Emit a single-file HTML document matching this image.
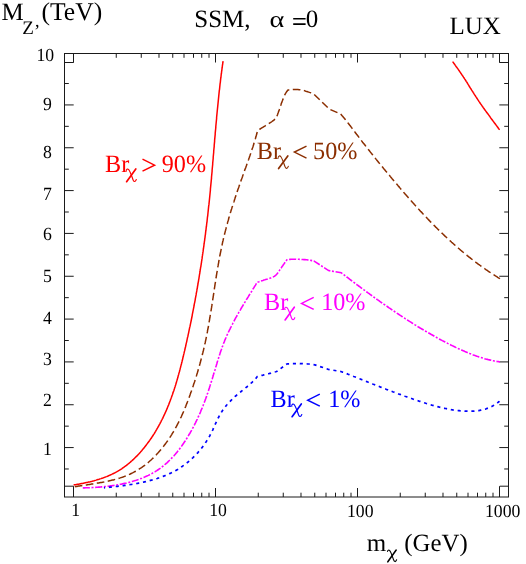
<!DOCTYPE html>
<html><head><meta charset="utf-8"><title>SSM LUX</title>
<style>html,body{margin:0;padding:0;background:#fff;}body{width:526px;height:564px;position:relative;overflow:hidden;font-family:"Liberation Serif",serif;}</style>
</head><body>
<svg width="526" height="564" viewBox="0 0 526 564" style="position:absolute;left:0;top:0;will-change:transform">
<rect width="526" height="564" fill="#fff"/>
<g stroke="#1a1a1a" stroke-width="1" fill="none" shape-rendering="auto">
<rect x="64.5" y="53.5" width="444.0" height="443.5"/>
<path d="M64.5 468.98h4.3 M508.5 468.98h-4.3 M64.5 447.57h9.2 M508.5 447.57h-9.2 M64.5 426.15h4.3 M508.5 426.15h-4.3 M64.5 404.74h9.2 M508.5 404.74h-9.2 M64.5 383.32h4.3 M508.5 383.32h-4.3 M64.5 361.91h9.2 M508.5 361.91h-9.2 M64.5 340.50h4.3 M508.5 340.50h-4.3 M64.5 319.08h9.2 M508.5 319.08h-9.2 M64.5 297.66h4.3 M508.5 297.66h-4.3 M64.5 276.25h9.2 M508.5 276.25h-9.2 M64.5 254.83h4.3 M508.5 254.83h-4.3 M64.5 233.42h9.2 M508.5 233.42h-9.2 M64.5 212.00h4.3 M508.5 212.00h-4.3 M64.5 190.59h9.2 M508.5 190.59h-9.2 M64.5 169.18h4.3 M508.5 169.18h-4.3 M64.5 147.76h9.2 M508.5 147.76h-9.2 M64.5 126.34h4.3 M508.5 126.34h-4.3 M64.5 104.93h9.2 M508.5 104.93h-9.2 M64.5 83.51h4.3 M508.5 83.51h-4.3 M64.5 62.50h9.2 M508.5 62.50h-9.2 M64.5 486.2h9.0 M508.5 486.2h-8.7 M73.50 497.0V486.2 M73.50 53.5V62.50 M116.25 497.0v-4.3 M116.25 53.5v4.3 M141.25 497.0v-4.3 M141.25 53.5v4.3 M158.99 497.0v-4.3 M158.99 53.5v4.3 M172.75 497.0v-4.3 M172.75 53.5v4.3 M184.00 497.0v-4.3 M184.00 53.5v4.3 M193.50 497.0v-4.3 M193.50 53.5v4.3 M201.74 497.0v-4.3 M201.74 53.5v4.3 M209.00 497.0v-4.3 M209.00 53.5v4.3 M215.50 497.0v-9.0 M215.50 53.5v9.0 M258.25 497.0v-4.3 M258.25 53.5v4.3 M283.25 497.0v-4.3 M283.25 53.5v4.3 M300.99 497.0v-4.3 M300.99 53.5v4.3 M314.75 497.0v-4.3 M314.75 53.5v4.3 M326.00 497.0v-4.3 M326.00 53.5v4.3 M335.50 497.0v-4.3 M335.50 53.5v4.3 M343.74 497.0v-4.3 M343.74 53.5v4.3 M351.00 497.0v-4.3 M351.00 53.5v4.3 M357.50 497.0v-9.0 M357.50 53.5v9.0 M400.25 497.0v-4.3 M400.25 53.5v4.3 M425.25 497.0v-4.3 M425.25 53.5v4.3 M442.99 497.0v-4.3 M442.99 53.5v4.3 M456.75 497.0v-4.3 M456.75 53.5v4.3 M468.00 497.0v-4.3 M468.00 53.5v4.3 M477.50 497.0v-4.3 M477.50 53.5v4.3 M485.74 497.0v-4.3 M485.74 53.5v4.3 M493.00 497.0v-4.3 M493.00 53.5v4.3 M499.50 497.0V486.2 M499.50 53.5V62.50"/>
</g>
<path d="M73.6 485.0 L74.6 484.8 L75.6 484.7 L76.5 484.5 L77.5 484.3 L78.5 484.2 L79.5 484.0 L80.5 483.8 L81.5 483.6 L82.4 483.4 L83.4 483.2 L84.4 483.0 L85.4 482.8 L86.4 482.6 L87.4 482.4 L88.4 482.1 L89.3 481.9 L90.3 481.7 L91.3 481.4 L92.3 481.2 L93.2 480.9 L94.2 480.7 L95.2 480.4 L96.2 480.1 L97.1 479.8 L98.1 479.5 L99.1 479.2 L100.0 478.9 L101.0 478.6 L101.9 478.3 L102.9 478.0 L103.8 477.6 L104.8 477.3 L105.7 476.9 L106.6 476.6 L107.6 476.2 L108.5 475.8 L109.4 475.4 L110.3 475.0 L111.2 474.6 L112.1 474.2 L113.0 473.7 L113.9 473.3 L114.8 472.8 L115.7 472.3 L116.6 471.9 L117.4 471.4 L118.3 470.9 L119.1 470.4 L120.0 469.8 L120.8 469.3 L121.7 468.8 L122.5 468.2 L123.3 467.6 L124.1 467.0 L124.9 466.5 L125.7 465.9 L126.5 465.3 L127.3 464.6 L128.1 464.0 L128.9 463.4 L129.6 462.7 L130.4 462.1 L131.1 461.4 L131.9 460.8 L132.6 460.1 L133.4 459.4 L134.1 458.7 L134.8 458.0 L135.5 457.3 L136.2 456.6 L137.0 455.9 L137.6 455.2 L138.3 454.4 L139.0 453.7 L139.7 452.9 L140.4 452.2 L141.0 451.4 L141.7 450.7 L142.3 449.9 L143.0 449.1 L143.6 448.4 L144.3 447.6 L144.9 446.8 L145.5 446.0 L146.1 445.2 L146.7 444.4 L147.3 443.6 L147.9 442.8 L148.5 442.0 L149.1 441.2 L149.7 440.4 L150.2 439.6 L150.8 438.8 L151.4 438.0 L151.9 437.1 L152.5 436.3 L153.0 435.5 L153.5 434.7 L154.1 433.8 L154.6 433.0 L155.1 432.1 L155.6 431.3 L156.1 430.4 L156.6 429.6 L157.1 428.7 L157.6 427.9 L158.1 427.0 L158.6 426.2 L159.0 425.3 L159.5 424.4 L160.0 423.6 L160.4 422.7 L160.9 421.8 L161.3 420.9 L161.8 420.0 L162.2 419.2 L162.7 418.3 L163.1 417.4 L163.5 416.5 L163.9 415.6 L164.4 414.7 L164.8 413.8 L165.2 412.9 L165.6 412.0 L166.0 411.1 L166.4 410.2 L166.8 409.3 L167.2 408.4 L167.5 407.5 L167.9 406.5 L168.3 405.6 L168.7 404.7 L169.0 403.8 L169.4 402.9 L169.7 401.9 L170.1 401.0 L170.4 400.1 L170.8 399.1 L171.1 398.2 L171.5 397.3 L171.8 396.3 L172.1 395.4 L172.5 394.5 L172.8 393.5 L173.1 392.6 L173.4 391.6 L173.8 390.7 L174.1 389.7 L174.4 388.8 L174.7 387.8 L175.0 386.9 L175.3 385.9 L175.6 385.0 L175.9 384.0 L176.2 383.1 L176.5 382.1 L176.7 381.1 L177.0 380.2 L177.3 379.2 L177.6 378.2 L177.9 377.3 L178.1 376.3 L178.4 375.3 L178.7 374.4 L178.9 373.4 L179.2 372.4 L179.5 371.5 L179.7 370.5 L180.0 369.5 L180.2 368.6 L180.5 367.6 L180.7 366.6 L181.0 365.6 L181.2 364.7 L181.5 363.7 L181.7 362.7 L182.0 361.7 L182.2 360.7 L182.5 359.8 L182.7 358.8 L182.9 357.8 L183.2 356.8 L183.4 355.8 L183.6 354.9 L183.9 353.9 L184.1 352.9 L184.3 351.9 L184.6 350.9 L184.8 350.0 L185.0 349.0 L185.2 348.0 L185.5 347.0 L185.7 346.0 L185.9 345.0 L186.1 344.1 L186.3 343.1 L186.6 342.1 L186.8 341.1 L187.0 340.1 L187.2 339.2 L187.4 338.2 L187.6 337.2 L187.9 336.2 L188.1 335.2 L188.3 334.2 L188.5 333.3 L188.7 332.3 L188.9 331.3 L189.1 330.3 L189.3 329.3 L189.5 328.3 L189.7 327.4 L190.0 326.4 L190.2 325.4 L190.4 324.4 L190.6 323.4 L190.8 322.4 L191.0 321.5 L191.2 320.5 L191.4 319.5 L191.6 318.5 L191.8 317.5 L192.0 316.5 L192.2 315.6 L192.3 314.6 L192.5 313.6 L192.7 312.6 L192.9 311.6 L193.1 310.6 L193.3 309.6 L193.5 308.7 L193.7 307.7 L193.9 306.7 L194.1 305.7 L194.2 304.7 L194.4 303.7 L194.6 302.8 L194.8 301.8 L195.0 300.8 L195.2 299.8 L195.3 298.8 L195.5 297.8 L195.7 296.8 L195.9 295.9 L196.1 294.9 L196.2 293.9 L196.4 292.9 L196.6 291.9 L196.8 290.9 L196.9 289.9 L197.1 289.0 L197.3 288.0 L197.5 287.0 L197.6 286.0 L197.8 285.0 L198.0 284.0 L198.1 283.0 L198.3 282.0 L198.5 281.1 L198.6 280.1 L198.8 279.1 L199.0 278.1 L199.1 277.1 L199.3 276.1 L199.4 275.1 L199.6 274.2 L199.8 273.2 L199.9 272.2 L200.1 271.2 L200.2 270.2 L200.4 269.2 L200.5 268.2 L200.7 267.2 L200.9 266.3 L201.0 265.3 L201.2 264.3 L201.3 263.3 L201.5 262.3 L201.6 261.3 L201.8 260.3 L201.9 259.3 L202.1 258.4 L202.2 257.4 L202.3 256.4 L202.5 255.4 L202.6 254.4 L202.8 253.4 L202.9 252.4 L203.1 251.4 L203.2 250.5 L203.3 249.5 L203.5 248.5 L203.6 247.5 L203.8 246.5 L203.9 245.5 L204.0 244.5 L204.2 243.5 L204.3 242.5 L204.4 241.6 L204.6 240.6 L204.7 239.6 L204.8 238.6 L205.0 237.6 L205.1 236.6 L205.2 235.6 L205.4 234.6 L205.5 233.6 L205.6 232.6 L205.7 231.7 L205.9 230.7 L206.0 229.7 L206.1 228.7 L206.2 227.7 L206.4 226.7 L206.5 225.7 L206.6 224.7 L206.7 223.7 L206.8 222.8 L207.0 221.8 L207.1 220.8 L207.2 219.8 L207.3 218.8 L207.4 217.8 L207.5 216.8 L207.7 215.8 L207.8 214.8 L207.9 213.8 L208.0 212.8 L208.1 211.9 L208.2 210.9 L208.3 209.9 L208.4 208.9 L208.5 207.9 L208.6 206.9 L208.7 205.9 L208.9 204.9 L209.0 203.9 L209.1 202.9 L209.2 201.9 L209.3 201.0 L209.4 200.0 L209.5 199.0 L209.6 198.0 L209.7 197.0 L209.8 196.0 L209.9 195.0 L210.0 194.0 L210.1 193.0 L210.2 192.0 L210.3 191.0 L210.4 190.1 L210.4 189.1 L210.5 188.1 L210.6 187.1 L210.7 186.1 L210.8 185.1 L210.9 184.1 L211.0 183.1 L211.1 182.1 L211.2 181.1 L211.3 180.1 L211.4 179.1 L211.5 178.1 L211.5 177.2 L211.6 176.2 L211.7 175.2 L211.8 174.2 L211.9 173.2 L212.0 172.2 L212.1 171.2 L212.1 170.2 L212.2 169.2 L212.3 168.2 L212.4 167.2 L212.5 166.2 L212.6 165.2 L212.7 164.2 L212.7 163.3 L212.8 162.3 L212.9 161.3 L213.0 160.3 L213.1 159.3 L213.2 158.3 L213.2 157.3 L213.3 156.3 L213.4 155.3 L213.5 154.3 L213.6 153.3 L213.7 152.3 L213.7 151.3 L213.8 150.3 L213.9 149.3 L214.0 148.3 L214.1 147.4 L214.2 146.4 L214.2 145.4 L214.3 144.4 L214.4 143.4 L214.5 142.4 L214.6 141.4 L214.6 140.4 L214.7 139.4 L214.8 138.4 L214.9 137.4 L215.0 136.4 L215.1 135.4 L215.2 134.4 L215.2 133.4 L215.3 132.4 L215.4 131.4 L215.5 130.4 L215.6 129.5 L215.7 128.5 L215.8 127.5 L215.8 126.5 L215.9 125.5 L216.0 124.5 L216.1 123.5 L216.2 122.5 L216.3 121.5 L216.4 120.5 L216.5 119.5 L216.6 118.5 L216.6 117.5 L216.7 116.5 L216.8 115.5 L216.9 114.5 L217.0 113.5 L217.1 112.5 L217.2 111.5 L217.3 110.5 L217.4 109.5 L217.5 108.5 L217.6 107.6 L217.7 106.6 L217.8 105.6 L217.9 104.6 L218.0 103.6 L218.1 102.6 L218.2 101.6 L218.3 100.6 L218.4 99.6 L218.5 98.6 L218.6 97.6 L218.7 96.6 L218.8 95.6 L218.9 94.6 L219.0 93.6 L219.1 92.6 L219.2 91.6 L219.3 90.6 L219.5 89.6 L219.6 88.6 L219.7 87.6 L219.8 86.6 L219.9 85.6 L220.0 84.6 L220.1 83.6 L220.3 82.6 L220.4 81.6 L220.5 80.6 L220.6 79.6 L220.7 78.7 L220.9 77.7 L221.0 76.7 L221.1 75.7 L221.2 74.7 L221.4 73.7 L221.5 72.7 L221.6 71.7 L221.8 70.7 L221.9 69.7 L222.0 68.7 L222.2 67.7 L222.3 66.7 L222.4 65.7 L222.6 64.7 L222.7 63.7 L222.9 62.7 L223.0 61.7 L223.1 61.1" stroke="#ff0000" stroke-width="1.5" fill="none"/>
<path d="M452.6 61.6 L453.2 62.4 L453.8 63.2 L454.4 64.0 L455.0 64.8 L455.5 65.6 L456.1 66.5 L456.7 67.3 L457.3 68.1 L457.9 68.9 L458.4 69.7 L459.0 70.5 L459.6 71.4 L460.2 72.2 L460.7 73.0 L461.3 73.8 L461.8 74.7 L462.4 75.5 L463.0 76.3 L463.5 77.2 L464.1 78.0 L464.6 78.8 L465.2 79.7 L465.7 80.5 L466.2 81.3 L466.8 82.2 L467.3 83.0 L467.8 83.9 L468.3 84.7 L468.9 85.6 L469.4 86.5 L469.9 87.3 L470.4 88.2 L471.0 89.0 L471.5 89.9 L472.0 90.7 L472.6 91.5 L473.1 92.4 L473.7 93.2 L474.2 94.1 L474.7 94.9 L475.3 95.7 L475.8 96.6 L476.4 97.4 L476.9 98.3 L477.5 99.1 L478.0 99.9 L478.6 100.8 L479.1 101.6 L479.7 102.4 L480.2 103.3 L480.8 104.1 L481.4 104.9 L481.9 105.7 L482.5 106.5 L483.1 107.4 L483.7 108.2 L484.3 109.0 L484.8 109.8 L485.4 110.6 L486.0 111.4 L486.6 112.2 L487.2 113.0 L487.8 113.8 L488.4 114.6 L489.0 115.4 L489.6 116.2 L490.2 117.1 L490.7 117.9 L491.3 118.7 L491.9 119.5 L492.5 120.3 L493.1 121.1 L493.7 121.9 L494.3 122.7 L494.9 123.5 L495.5 124.3 L496.1 125.1 L496.7 125.9 L497.3 126.7 L497.9 127.5 L498.4 128.3 L499.0 129.1 L499.6 129.9" stroke="#ff0000" stroke-width="1.5" fill="none"/>
<path d="M74.8 486.8 L75.8 486.6 L76.8 486.5 L77.7 486.3 L78.7 486.1 L79.7 486.0 L80.7 485.8 L81.7 485.7 L82.7 485.5 L83.7 485.4 L84.7 485.2 L85.7 485.0 L86.6 484.9 L87.6 484.7 L88.6 484.6 L89.6 484.4 L90.6 484.3 L91.6 484.1 L92.6 484.0 L93.6 483.8 L94.6 483.6 L95.6 483.5 L96.6 483.3 L97.6 483.1 L98.6 483.0 L99.6 482.8 L100.6 482.6 L101.6 482.4 L102.6 482.2 L103.6 482.1 L104.6 481.9 L105.6 481.7 L106.6 481.5 L107.6 481.2 L108.6 481.0 L109.6 480.8 L110.5 480.6 L111.5 480.3 L112.5 480.1 L113.5 479.9 L114.4 479.6 L115.4 479.3 L116.4 479.1 L117.3 478.8 L118.3 478.5 L119.2 478.2 L120.2 477.9 L121.1 477.6 L122.1 477.3 L123.0 477.0 L123.9 476.6 L124.9 476.3 L125.8 475.9 L126.7 475.5 L127.6 475.2 L128.5 474.8 L129.4 474.4 L130.3 474.0 L131.2 473.5 L132.1 473.1 L133.0 472.7 L133.9 472.2 L134.7 471.7 L135.6 471.3 L136.5 470.8 L137.3 470.3 L138.1 469.8 L139.0 469.2 L139.8 468.7 L140.6 468.2 L141.5 467.6 L142.3 467.0 L143.1 466.5 L143.9 465.9 L144.7 465.3 L145.5 464.7 L146.2 464.1 L147.0 463.4 L147.8 462.8 L148.5 462.2 L149.3 461.5 L150.1 460.8 L150.8 460.2 L151.5 459.5 L152.3 458.8 L153.0 458.1 L153.7 457.4 L154.4 456.7 L155.1 456.0 L155.8 455.3 L156.5 454.6 L157.2 453.8 L157.9 453.1 L158.6 452.3 L159.2 451.6 L159.9 450.8 L160.5 450.1 L161.2 449.3 L161.8 448.5 L162.5 447.7 L163.1 446.9 L163.7 446.1 L164.3 445.3 L164.9 444.5 L165.5 443.7 L166.1 442.9 L166.7 442.1 L167.3 441.3 L167.9 440.5 L168.4 439.6 L169.0 438.8 L169.6 438.0 L170.1 437.1 L170.6 436.3 L171.2 435.4 L171.7 434.6 L172.2 433.7 L172.7 432.9 L173.3 432.0 L173.8 431.2 L174.3 430.3 L174.7 429.4 L175.2 428.6 L175.7 427.7 L176.2 426.8 L176.7 426.0 L177.1 425.1 L177.6 424.2 L178.0 423.3 L178.5 422.4 L178.9 421.6 L179.4 420.7 L179.8 419.8 L180.2 418.9 L180.6 418.0 L181.1 417.1 L181.5 416.2 L181.9 415.3 L182.3 414.4 L182.7 413.5 L183.1 412.6 L183.5 411.7 L183.9 410.7 L184.2 409.8 L184.6 408.9 L185.0 408.0 L185.4 407.1 L185.8 406.2 L186.1 405.2 L186.5 404.3 L186.9 403.4 L187.2 402.5 L187.6 401.5 L187.9 400.6 L188.3 399.7 L188.6 398.7 L189.0 397.8 L189.3 396.9 L189.7 395.9 L190.0 395.0 L190.3 394.0 L190.7 393.1 L191.0 392.1 L191.4 391.2 L191.7 390.2 L192.0 389.3 L192.3 388.3 L192.7 387.4 L193.0 386.4 L193.3 385.5 L193.6 384.5 L193.9 383.6 L194.3 382.6 L194.6 381.7 L194.9 380.7 L195.2 379.7 L195.5 378.8 L195.8 377.8 L196.1 376.8 L196.4 375.9 L196.7 374.9 L197.0 373.9 L197.3 373.0 L197.6 372.0 L197.9 371.0 L198.2 370.1 L198.4 369.1 L198.7 368.1 L199.0 367.2 L199.3 366.2 L199.6 365.2 L199.8 364.2 L200.1 363.3 L200.4 362.3 L200.6 361.3 L200.9 360.3 L201.1 359.4 L201.4 358.4 L201.7 357.4 L201.9 356.4 L202.2 355.4 L202.4 354.5 L202.6 353.5 L202.9 352.5 L203.1 351.5 L203.4 350.5 L203.6 349.6 L203.8 348.6 L204.1 347.6 L204.3 346.6 L204.5 345.6 L204.7 344.7 L204.9 343.7 L205.2 342.7 L205.4 341.7 L205.6 340.7 L205.8 339.8 L206.0 338.8 L206.2 337.8 L206.4 336.8 L206.6 335.8 L206.8 334.8 L207.0 333.9 L207.2 332.9 L207.4 331.9 L207.5 330.9 L207.7 329.9 L207.9 329.0 L208.1 328.0 L208.3 327.0 L208.5 326.0 L208.6 325.0 L208.8 324.1 L209.0 323.1 L209.1 322.1 L209.3 321.1 L209.5 320.1 L209.6 319.1 L209.8 318.2 L210.0 317.2 L210.1 316.2 L210.3 315.2 L210.5 314.2 L210.6 313.3 L210.8 312.3 L210.9 311.3 L211.1 310.3 L211.3 309.3 L211.4 308.3 L211.6 307.4 L211.7 306.4 L211.9 305.4 L212.0 304.4 L212.2 303.4 L212.3 302.5 L212.5 301.5 L212.6 300.5 L212.8 299.5 L212.9 298.5 L213.1 297.6 L213.2 296.6 L213.4 295.6 L213.5 294.6 L213.7 293.6 L213.8 292.7 L214.0 291.7 L214.1 290.7 L214.3 289.7 L214.4 288.7 L214.5 287.8 L214.7 286.8 L214.8 285.8 L215.0 284.8 L215.1 283.8 L215.3 282.9 L215.5 281.9 L215.6 280.9 L215.8 279.9 L215.9 278.9 L216.1 278.0 L216.2 277.0 L216.4 276.0 L216.5 275.0 L216.7 274.0 L216.8 273.1 L217.0 272.1 L217.2 271.1 L217.3 270.1 L217.5 269.2 L217.7 268.2 L217.8 267.2 L218.0 266.2 L218.2 265.2 L218.3 264.3 L218.5 263.3 L218.7 262.3 L218.8 261.3 L219.0 260.4 L219.2 259.4 L219.4 258.4 L219.6 257.4 L219.7 256.4 L219.9 255.5 L220.1 254.5 L220.3 253.5 L220.5 252.5 L220.7 251.6 L220.9 250.6 L221.1 249.6 L221.3 248.6 L221.5 247.7 L221.7 246.7 L221.9 245.7 L222.1 244.8 L222.3 243.8 L222.5 242.8 L222.7 241.8 L223.0 240.9 L223.2 239.9 L223.4 238.9 L223.6 237.9 L223.9 237.0 L224.1 236.0 L224.3 235.0 L224.6 234.1 L224.8 233.1 L225.1 232.1 L225.3 231.1 L225.6 230.2 L225.8 229.2 L226.1 228.2 L226.3 227.3 L226.6 226.3 L226.8 225.3 L227.1 224.3 L227.4 223.4 L227.6 222.4 L227.9 221.4 L228.2 220.5 L228.5 219.5 L228.7 218.5 L229.0 217.6 L229.3 216.6 L229.6 215.6 L229.9 214.7 L230.2 213.7 L230.4 212.7 L230.7 211.8 L231.0 210.8 L231.3 209.8 L231.6 208.9 L231.9 207.9 L232.2 206.9 L232.5 206.0 L232.8 205.0 L233.1 204.1 L233.4 203.1 L233.8 202.1 L234.1 201.2 L234.4 200.2 L234.7 199.2 L235.0 198.3 L235.3 197.3 L235.6 196.4 L236.0 195.4 L236.3 194.4 L236.6 193.5 L236.9 192.5 L237.2 191.6 L237.6 190.6 L237.9 189.6 L238.2 188.7 L238.6 187.7 L238.9 186.8 L239.2 185.8 L239.6 184.9 L239.9 183.9 L240.2 182.9 L240.6 182.0 L240.9 181.0 L241.2 180.1 L241.6 179.1 L241.9 178.2 L242.3 177.2 L242.6 176.3 L242.9 175.3 L243.3 174.3 L243.6 173.4 L244.0 172.4 L244.3 171.5 L244.6 170.5 L245.0 169.6 L245.3 168.6 L245.7 167.7 L246.0 166.7 L246.4 165.8 L246.7 164.8 L247.0 163.9 L247.4 162.9 L247.7 162.0 L248.0 161.0 L248.4 160.1 L248.7 159.2 L249.0 158.2 L249.4 157.3 L249.7 156.3 L250.0 155.4 L250.3 154.4 L250.7 153.5 L251.0 152.5 L251.3 151.6 L251.6 150.7 L251.9 149.7 L252.2 148.8 L252.6 147.8 L252.9 146.9 L253.2 145.9 L253.5 145.0 L253.8 144.1 L254.0 143.1 L254.3 142.2 L254.6 141.3 L254.9 140.3 L255.2 139.4 L255.5 138.4 L255.7 137.5 L256.0 136.6 L256.3 135.6 L256.5 134.7 L256.8 133.8 L257.0 132.8 L257.3 131.9 L257.5 131.0 L257.6 130.6 L258.4 130.1 L259.3 129.5 L260.1 129.0 L261.0 128.4 L261.8 127.9 L262.7 127.4 L263.5 126.8 L264.3 126.3 L265.2 125.8 L266.0 125.2 L266.9 124.7 L267.8 124.2 L268.6 123.7 L269.5 123.1 L270.3 122.6 L271.1 122.1 L272.0 121.5 L272.8 120.9 L273.6 120.3 L274.4 119.6 L275.2 119.0 L275.8 118.3 L276.3 117.5 L276.8 116.6 L277.1 115.7 L277.5 114.7 L277.8 113.8 L278.2 112.8 L278.5 111.8 L278.9 110.9 L279.2 110.0 L279.5 109.0 L279.9 108.1 L280.2 107.1 L280.5 106.2 L280.8 105.2 L281.1 104.3 L281.4 103.3 L281.8 102.4 L282.1 101.4 L282.5 100.5 L282.8 99.6 L283.2 98.6 L283.6 97.7 L284.0 96.8 L284.4 95.8 L284.8 94.9 L285.2 94.0 L285.7 93.2 L286.2 92.3 L286.8 91.5 L287.4 90.7 L288.0 90.0 L289.0 89.9 L290.0 89.8 L291.0 89.7 L292.0 89.7 L293.0 89.6 L294.0 89.6 L295.0 89.6 L296.0 89.6 L297.0 89.6 L298.0 89.6 L299.0 89.7 L300.0 89.8 L301.0 90.0 L302.0 90.2 L302.9 90.4 L303.9 90.6 L304.9 90.9 L305.8 91.2 L306.8 91.5 L307.7 91.8 L308.7 92.1 L309.6 92.4 L310.6 92.7 L311.5 93.1 L312.5 93.4 L313.4 93.7 L313.6 93.8 L329.4 109.2 L340.6 114.0 L341.3 114.7 L341.9 115.5 L342.6 116.3 L343.2 117.0 L343.9 117.8 L344.5 118.6 L345.1 119.3 L345.7 120.1 L346.4 120.9 L347.0 121.6 L347.6 122.4 L348.2 123.2 L348.8 124.0 L349.4 124.8 L350.0 125.6 L350.6 126.3 L351.2 127.1 L351.8 127.9 L352.4 128.7 L353.0 129.5 L353.6 130.3 L354.2 131.1 L354.8 131.9 L355.4 132.7 L356.0 133.5 L356.6 134.3 L357.2 135.0 L357.8 135.8 L358.4 136.6 L359.0 137.4 L359.6 138.2 L360.2 139.0 L360.8 139.8 L361.4 140.6 L362.0 141.4 L362.6 142.2 L363.2 142.9 L363.9 143.7 L364.5 144.5 L365.1 145.3 L365.7 146.1 L366.3 146.9 L366.9 147.7 L367.5 148.4 L368.1 149.2 L368.8 150.0 L369.4 150.8 L370.0 151.6 L370.6 152.4 L371.2 153.1 L371.9 153.9 L372.5 154.7 L373.1 155.5 L373.7 156.3 L374.3 157.0 L375.0 157.8 L375.6 158.6 L376.2 159.4 L376.9 160.2 L377.5 160.9 L378.1 161.7 L378.7 162.5 L379.4 163.3 L380.0 164.0 L380.6 164.8 L381.3 165.6 L381.9 166.4 L382.5 167.1 L383.2 167.9 L383.8 168.7 L384.5 169.5 L385.1 170.2 L385.7 171.0 L386.4 171.8 L387.0 172.5 L387.6 173.3 L388.3 174.1 L388.9 174.9 L389.6 175.6 L390.2 176.4 L390.9 177.2 L391.5 177.9 L392.1 178.7 L392.8 179.5 L393.4 180.2 L394.1 181.0 L394.7 181.8 L395.4 182.5 L396.0 183.3 L396.7 184.1 L397.3 184.8 L398.0 185.6 L398.6 186.4 L399.3 187.1 L399.9 187.9 L400.6 188.7 L401.2 189.4 L401.9 190.2 L402.5 190.9 L403.2 191.7 L403.8 192.5 L404.5 193.2 L405.1 194.0 L405.8 194.7 L406.5 195.5 L407.1 196.2 L407.8 197.0 L408.4 197.7 L409.1 198.5 L409.8 199.3 L410.4 200.0 L411.1 200.8 L411.8 201.5 L412.4 202.3 L413.1 203.0 L413.8 203.7 L414.4 204.5 L415.1 205.2 L415.8 206.0 L416.5 206.7 L417.1 207.5 L417.8 208.2 L418.5 209.0 L419.2 209.7 L419.8 210.4 L420.5 211.2 L421.2 211.9 L421.9 212.6 L422.6 213.4 L423.2 214.1 L423.9 214.8 L424.6 215.6 L425.3 216.3 L426.0 217.0 L426.7 217.7 L427.4 218.5 L428.1 219.2 L428.7 219.9 L429.4 220.6 L430.1 221.4 L430.8 222.1 L431.5 222.8 L432.2 223.5 L432.9 224.2 L433.6 224.9 L434.3 225.6 L435.0 226.3 L435.7 227.1 L436.5 227.8 L437.2 228.5 L437.9 229.2 L438.6 229.9 L439.3 230.6 L440.0 231.3 L440.7 232.0 L441.4 232.7 L442.2 233.4 L442.9 234.0 L443.6 234.7 L444.3 235.4 L445.0 236.1 L445.8 236.8 L446.5 237.5 L447.2 238.2 L448.0 238.8 L448.7 239.5 L449.4 240.2 L450.2 240.9 L450.9 241.5 L451.6 242.2 L452.4 242.9 L453.1 243.5 L453.9 244.2 L454.6 244.9 L455.4 245.5 L456.1 246.2 L456.8 246.9 L457.6 247.5 L458.4 248.2 L459.1 248.8 L459.9 249.5 L460.6 250.1 L461.4 250.7 L462.1 251.4 L462.9 252.0 L463.7 252.7 L464.4 253.3 L465.2 253.9 L466.0 254.6 L466.8 255.2 L467.5 255.8 L468.3 256.4 L469.1 257.1 L469.9 257.7 L470.7 258.3 L471.4 258.9 L472.2 259.5 L473.0 260.1 L473.8 260.8 L474.6 261.4 L475.4 262.0 L476.2 262.6 L477.0 263.2 L477.8 263.8 L478.6 264.4 L479.4 264.9 L480.2 265.5 L481.0 266.1 L481.8 266.7 L482.6 267.3 L483.5 267.9 L484.3 268.4 L485.1 269.0 L485.9 269.6 L486.7 270.1 L487.6 270.7 L488.4 271.3 L489.2 271.8 L490.1 272.4 L490.9 272.9 L491.7 273.5 L492.6 274.0 L493.4 274.6 L494.3 275.1 L495.1 275.7 L495.9 276.2 L496.8 276.7 L497.7 277.3 L498.5 277.8 L499.4 278.3 L500.0 278.7" stroke="#8b2e00" stroke-width="1.5" fill="none" stroke-dasharray="7.634 3.516"/>
<path d="M82.8 487.9 L83.8 487.9 L84.7 487.9 L85.7 487.8 L86.7 487.8 L87.7 487.8 L88.6 487.7 L89.6 487.7 L90.6 487.6 L91.6 487.6 L92.6 487.5 L93.6 487.5 L94.6 487.4 L95.6 487.4 L96.6 487.3 L97.6 487.2 L98.6 487.1 L99.6 487.1 L100.6 487.0 L101.6 486.9 L102.6 486.8 L103.6 486.7 L104.6 486.6 L105.6 486.5 L106.6 486.4 L107.6 486.3 L108.6 486.2 L109.6 486.0 L110.6 485.9 L111.6 485.8 L112.6 485.6 L113.6 485.5 L114.6 485.3 L115.6 485.1 L116.7 485.0 L117.7 484.8 L118.7 484.6 L119.7 484.4 L120.6 484.3 L121.6 484.1 L122.6 483.8 L123.6 483.6 L124.6 483.4 L125.6 483.2 L126.6 483.0 L127.6 482.7 L128.5 482.5 L129.5 482.2 L130.5 482.0 L131.5 481.7 L132.4 481.4 L133.4 481.1 L134.4 480.8 L135.3 480.5 L136.3 480.2 L137.2 479.9 L138.2 479.6 L139.1 479.2 L140.0 478.9 L141.0 478.5 L141.9 478.2 L142.8 477.8 L143.7 477.4 L144.7 477.0 L145.6 476.6 L146.5 476.2 L147.4 475.8 L148.3 475.4 L149.1 475.0 L150.0 474.5 L150.9 474.1 L151.8 473.6 L152.6 473.1 L153.5 472.6 L154.3 472.1 L155.2 471.6 L156.0 471.1 L156.8 470.6 L157.7 470.0 L158.5 469.5 L159.3 468.9 L160.1 468.4 L160.9 467.8 L161.7 467.2 L162.4 466.6 L163.2 466.0 L164.0 465.4 L164.7 464.7 L165.5 464.1 L166.2 463.4 L167.0 462.8 L167.7 462.1 L168.4 461.4 L169.1 460.7 L169.8 460.0 L170.5 459.3 L171.2 458.6 L171.9 457.9 L172.6 457.2 L173.3 456.4 L174.0 455.7 L174.6 455.0 L175.3 454.2 L175.9 453.4 L176.6 452.7 L177.2 451.9 L177.8 451.1 L178.5 450.3 L179.1 449.5 L179.7 448.7 L180.3 447.9 L180.9 447.1 L181.5 446.3 L182.1 445.4 L182.7 444.6 L183.3 443.8 L183.8 442.9 L184.4 442.1 L185.0 441.3 L185.5 440.4 L186.1 439.6 L186.6 438.7 L187.2 437.8 L187.7 437.0 L188.2 436.1 L188.7 435.2 L189.2 434.3 L189.8 433.5 L190.3 432.6 L190.8 431.7 L191.3 430.8 L191.8 429.9 L192.2 429.0 L192.7 428.2 L193.2 427.3 L193.7 426.4 L194.1 425.5 L194.6 424.6 L195.0 423.7 L195.5 422.8 L195.9 421.9 L196.4 420.9 L196.8 420.0 L197.3 419.1 L197.7 418.2 L198.1 417.3 L198.5 416.4 L198.9 415.5 L199.4 414.5 L199.8 413.6 L200.2 412.7 L200.6 411.8 L200.9 410.8 L201.3 409.9 L201.7 409.0 L202.1 408.1 L202.5 407.1 L202.8 406.2 L203.2 405.3 L203.6 404.3 L203.9 403.4 L204.3 402.5 L204.6 401.5 L205.0 400.6 L205.3 399.7 L205.7 398.7 L206.0 397.8 L206.4 396.9 L206.7 395.9 L207.0 395.0 L207.3 394.0 L207.7 393.1 L208.0 392.2 L208.3 391.2 L208.6 390.3 L208.9 389.3 L209.2 388.4 L209.5 387.5 L209.8 386.5 L210.1 385.6 L210.4 384.6 L210.7 383.7 L211.0 382.7 L211.3 381.8 L211.6 380.9 L211.9 379.9 L212.2 379.0 L212.5 378.0 L212.8 377.1 L213.1 376.1 L213.3 375.2 L213.6 374.3 L213.9 373.3 L214.2 372.4 L214.5 371.4 L214.8 370.5 L215.1 369.5 L215.3 368.6 L215.6 367.7 L215.9 366.7 L216.2 365.8 L216.5 364.8 L216.8 363.9 L217.0 363.0 L217.3 362.0 L217.6 361.1 L217.9 360.1 L218.2 359.2 L218.5 358.3 L218.8 357.3 L219.1 356.4 L219.4 355.4 L219.7 354.5 L220.0 353.6 L220.3 352.6 L220.6 351.7 L220.9 350.8 L221.3 349.8 L221.6 348.9 L221.9 348.0 L222.2 347.0 L222.6 346.1 L222.9 345.2 L223.3 344.2 L223.6 343.3 L224.0 342.4 L224.4 341.5 L224.7 340.5 L225.1 339.6 L225.5 338.7 L225.9 337.8 L226.3 336.8 L226.7 335.9 L227.1 335.0 L227.5 334.1 L228.0 333.2 L228.4 332.2 L228.8 331.3 L229.3 330.4 L229.7 329.5 L230.2 328.6 L230.6 327.7 L231.1 326.8 L231.5 325.9 L232.0 325.0 L232.5 324.0 L232.9 323.1 L233.4 322.2 L233.9 321.3 L234.4 320.4 L234.9 319.5 L235.3 318.6 L235.8 317.7 L236.3 316.9 L236.8 316.0 L237.3 315.1 L237.8 314.2 L238.3 313.3 L238.8 312.4 L239.4 311.5 L239.9 310.6 L240.4 309.8 L240.9 308.9 L241.4 308.0 L241.9 307.1 L242.5 306.3 L243.0 305.4 L243.5 304.5 L244.0 303.6 L244.5 302.8 L245.1 301.9 L245.6 301.0 L246.1 300.2 L246.6 299.3 L247.2 298.5 L247.7 297.6 L248.2 296.8 L248.7 295.9 L249.3 295.1 L249.8 294.2 L250.3 293.4 L250.8 292.5 L251.4 291.7 L251.9 290.9 L252.4 290.0 L252.9 289.2 L253.4 288.4 L254.0 287.5 L254.5 286.7 L255.0 285.9 L255.5 285.1 L256.0 284.2 L256.5 283.4 L257.0 282.6 L257.2 282.3 L258.1 282.0 L259.1 281.7 L260.0 281.4 L261.0 281.0 L261.9 280.7 L262.9 280.4 L263.8 280.1 L264.8 279.8 L265.7 279.5 L266.7 279.2 L267.7 278.9 L268.6 278.6 L269.6 278.3 L270.6 278.0 L271.5 277.6 L272.4 277.3 L273.3 276.9 L274.2 276.4 L275.0 275.8 L275.8 275.2 L276.5 274.5 L277.1 273.8 L277.7 273.0 L278.3 272.1 L278.9 271.3 L279.5 270.4 L280.0 269.6 L280.6 268.8 L281.2 268.0 L281.7 267.1 L282.3 266.3 L282.9 265.5 L283.4 264.7 L284.0 263.9 L284.6 263.0 L285.2 262.2 L285.8 261.4 L286.4 260.6 L287.0 259.8 L287.0 259.8 L288.0 259.7 L289.0 259.5 L290.0 259.4 L291.0 259.3 L292.0 259.2 L293.0 259.2 L294.0 259.2 L295.0 259.2 L296.0 259.2 L297.0 259.3 L298.0 259.3 L299.0 259.3 L300.0 259.4 L301.0 259.4 L302.0 259.5 L303.0 259.5 L304.0 259.6 L305.0 259.6 L306.0 259.7 L306.9 259.8 L307.9 260.0 L308.9 260.1 L309.9 260.2 L310.9 260.4 L311.9 260.6 L312.9 260.7 L313.8 260.9 L328.6 270.6 L341.2 272.7 L342.0 273.3 L342.8 273.9 L343.6 274.5 L344.4 275.1 L345.2 275.8 L346.0 276.4 L346.8 277.0 L347.6 277.6 L348.4 278.2 L349.2 278.8 L349.9 279.4 L350.7 280.0 L351.5 280.6 L352.3 281.2 L353.1 281.8 L353.9 282.4 L354.7 283.0 L355.5 283.6 L356.3 284.2 L357.1 284.8 L357.9 285.4 L358.7 286.0 L359.5 286.6 L360.3 287.2 L361.1 287.8 L361.9 288.4 L362.7 289.0 L363.5 289.6 L364.4 290.2 L365.2 290.8 L366.0 291.4 L366.8 292.0 L367.6 292.6 L368.4 293.1 L369.2 293.7 L370.0 294.3 L370.8 294.9 L371.6 295.5 L372.4 296.1 L373.2 296.7 L374.0 297.2 L374.8 297.8 L375.7 298.4 L376.5 299.0 L377.3 299.6 L378.1 300.1 L378.9 300.7 L379.7 301.3 L380.5 301.9 L381.4 302.5 L382.2 303.0 L383.0 303.6 L383.8 304.2 L384.6 304.7 L385.4 305.3 L386.3 305.9 L387.1 306.4 L387.9 307.0 L388.7 307.6 L389.5 308.1 L390.4 308.7 L391.2 309.3 L392.0 309.8 L392.8 310.4 L393.7 311.0 L394.5 311.5 L395.3 312.1 L396.2 312.6 L397.0 313.2 L397.8 313.7 L398.6 314.3 L399.5 314.8 L400.3 315.4 L401.1 315.9 L402.0 316.5 L402.8 317.0 L403.6 317.6 L404.5 318.1 L405.3 318.7 L406.2 319.2 L407.0 319.8 L407.8 320.3 L408.7 320.8 L409.5 321.4 L410.4 321.9 L411.2 322.4 L412.1 323.0 L412.9 323.5 L413.8 324.0 L414.6 324.6 L415.5 325.1 L416.3 325.6 L417.2 326.2 L418.0 326.7 L418.9 327.2 L419.7 327.7 L420.6 328.2 L421.4 328.8 L422.3 329.3 L423.2 329.8 L424.0 330.3 L424.9 330.8 L425.7 331.3 L426.6 331.8 L427.5 332.3 L428.3 332.8 L429.2 333.3 L430.1 333.8 L430.9 334.3 L431.8 334.8 L432.7 335.3 L433.6 335.8 L434.4 336.3 L435.3 336.8 L436.2 337.3 L437.1 337.8 L437.9 338.2 L438.8 338.7 L439.7 339.2 L440.6 339.7 L441.5 340.1 L442.3 340.6 L443.2 341.1 L444.1 341.5 L445.0 342.0 L445.9 342.5 L446.8 342.9 L447.7 343.4 L448.6 343.8 L449.5 344.3 L450.4 344.7 L451.3 345.2 L452.2 345.6 L453.1 346.1 L454.0 346.5 L454.9 346.9 L455.8 347.4 L456.7 347.8 L457.6 348.2 L458.5 348.7 L459.4 349.1 L460.3 349.5 L461.3 349.9 L462.2 350.3 L463.1 350.7 L464.0 351.1 L464.9 351.5 L465.9 351.9 L466.8 352.3 L467.7 352.7 L468.6 353.1 L469.6 353.5 L470.5 353.8 L471.4 354.2 L472.4 354.5 L473.3 354.9 L474.2 355.2 L475.2 355.6 L476.1 355.9 L477.0 356.3 L478.0 356.6 L478.9 356.9 L479.9 357.2 L480.8 357.5 L481.8 357.8 L482.7 358.1 L483.7 358.4 L484.6 358.7 L485.6 358.9 L486.5 359.2 L487.5 359.4 L488.5 359.7 L489.4 359.9 L490.4 360.1 L491.4 360.4 L492.3 360.6 L493.3 360.8 L494.3 361.0 L495.2 361.2 L496.2 361.3 L497.2 361.5 L498.2 361.6 L499.2 361.8 L499.9 361.9" stroke="#ff00ff" stroke-width="1.6" fill="none" stroke-dasharray="7.1 1.65 2.0 1.65"/>
<path d="M103.9 487.8 L104.9 487.7 L105.9 487.6 L106.8 487.5 L107.8 487.4 L108.8 487.3 L109.8 487.2 L110.8 487.1 L111.8 487.0 L112.8 486.9 L113.7 486.8 L114.7 486.7 L115.7 486.5 L116.7 486.4 L117.7 486.3 L118.7 486.2 L119.7 486.1 L120.7 485.9 L121.7 485.8 L122.7 485.7 L123.7 485.6 L124.7 485.4 L125.7 485.3 L126.7 485.1 L127.7 485.0 L128.7 484.8 L129.7 484.7 L130.7 484.5 L131.7 484.4 L132.7 484.2 L133.7 484.0 L134.7 483.9 L135.7 483.7 L136.7 483.5 L137.7 483.3 L138.7 483.1 L139.7 482.9 L140.7 482.7 L141.7 482.5 L142.6 482.3 L143.6 482.1 L144.6 481.9 L145.6 481.7 L146.6 481.4 L147.5 481.2 L148.5 480.9 L149.5 480.7 L150.5 480.4 L151.4 480.2 L152.4 479.9 L153.4 479.6 L154.3 479.3 L155.3 479.1 L156.2 478.8 L157.2 478.5 L158.1 478.1 L159.1 477.8 L160.0 477.5 L161.0 477.2 L161.9 476.8 L162.8 476.5 L163.7 476.1 L164.7 475.7 L165.6 475.4 L166.5 475.0 L167.4 474.6 L168.3 474.2 L169.2 473.8 L170.1 473.4 L171.0 472.9 L171.9 472.5 L172.8 472.0 L173.6 471.6 L174.5 471.1 L175.4 470.6 L176.3 470.2 L177.1 469.7 L178.0 469.2 L178.8 468.6 L179.6 468.1 L180.5 467.6 L181.3 467.0 L182.1 466.5 L182.9 465.9 L183.8 465.3 L184.6 464.7 L185.4 464.1 L186.1 463.5 L186.9 462.9 L187.7 462.3 L188.5 461.6 L189.2 461.0 L190.0 460.3 L190.8 459.7 L191.5 459.0 L192.2 458.3 L193.0 457.6 L193.7 456.9 L194.4 456.2 L195.1 455.5 L195.8 454.8 L196.5 454.1 L197.2 453.3 L197.9 452.6 L198.5 451.8 L199.2 451.1 L199.8 450.3 L200.5 449.5 L201.1 448.8 L201.7 448.0 L202.3 447.2 L202.9 446.4 L203.5 445.6 L204.1 444.8 L204.7 443.9 L205.3 443.1 L205.8 442.3 L206.4 441.4 L206.9 440.6 L207.5 439.7 L208.0 438.9 L208.5 438.0 L209.0 437.2 L209.5 436.3 L210.0 435.4 L210.4 434.5 L210.9 433.6 L211.4 432.7 L211.8 431.9 L212.2 431.0 L212.7 430.1 L213.1 429.2 L213.5 428.2 L213.9 427.3 L214.3 426.4 L214.7 425.5 L215.1 424.6 L215.5 423.7 L215.9 422.8 L216.4 421.9 L216.8 421.0 L217.2 420.1 L217.6 419.2 L218.0 418.4 L218.5 417.5 L218.9 416.6 L219.4 415.7 L219.9 414.9 L220.3 414.0 L220.8 413.2 L221.3 412.4 L221.9 411.5 L222.4 410.7 L222.9 409.9 L223.5 409.1 L224.1 408.3 L224.7 407.5 L225.3 406.8 L225.9 406.0 L226.5 405.2 L227.2 404.5 L227.8 403.8 L228.5 403.0 L229.2 402.3 L229.9 401.6 L230.6 400.9 L231.3 400.2 L232.0 399.5 L232.7 398.8 L233.4 398.1 L234.2 397.4 L234.9 396.7 L235.7 396.0 L236.4 395.4 L237.2 394.7 L238.0 394.1 L238.8 393.4 L239.6 392.8 L240.4 392.1 L241.1 391.5 L241.9 390.8 L242.7 390.2 L243.5 389.5 L244.3 388.9 L245.1 388.3 L245.9 387.6 L246.7 387.0 L247.5 386.3 L248.2 385.7 L249.0 385.0 L249.8 384.4 L250.5 383.7 L251.2 383.0 L252.0 382.3 L252.7 381.6 L253.4 381.0 L254.1 380.2 L254.8 379.5 L255.4 378.8 L256.1 378.1 L256.7 377.3 L257.3 376.6 L258.3 376.3 L259.2 376.1 L260.2 375.8 L261.2 375.6 L262.1 375.3 L263.1 375.1 L264.1 374.8 L265.0 374.6 L266.0 374.3 L267.0 374.1 L267.9 373.8 L268.9 373.6 L269.9 373.3 L270.8 373.1 L271.8 372.8 L272.8 372.5 L273.7 372.3 L274.7 372.0 L275.7 371.8 L276.6 371.5 L286.8 364.0 L287.8 363.9 L288.8 363.8 L289.8 363.8 L290.8 363.7 L291.8 363.7 L292.8 363.6 L293.8 363.6 L294.8 363.6 L295.8 363.6 L296.8 363.6 L297.8 363.6 L298.8 363.6 L299.8 363.7 L300.8 363.7 L301.8 363.7 L302.8 363.7 L303.8 363.8 L304.8 363.8 L305.8 363.9 L306.8 363.9 L307.8 364.0 L308.8 364.0 L309.8 364.1 L310.8 364.2 L311.8 364.4 L312.7 364.5 L313.7 364.7 L314.7 364.9 L315.0 364.9 L328.3 369.3 L341.6 371.7 L342.5 372.1 L343.5 372.4 L344.4 372.8 L345.4 373.2 L346.3 373.5 L347.3 373.9 L348.2 374.3 L349.1 374.6 L350.1 375.0 L351.0 375.4 L352.0 375.7 L352.9 376.1 L353.8 376.5 L354.7 376.8 L355.7 377.2 L356.6 377.6 L357.5 377.9 L358.5 378.3 L359.4 378.7 L360.3 379.0 L361.2 379.4 L362.2 379.8 L363.1 380.1 L364.0 380.5 L364.9 380.9 L365.9 381.2 L366.8 381.6 L367.7 382.0 L368.6 382.3 L369.6 382.7 L370.5 383.1 L371.4 383.4 L372.3 383.8 L373.2 384.2 L374.2 384.5 L375.1 384.9 L376.0 385.2 L376.9 385.6 L377.9 386.0 L378.8 386.3 L379.7 386.7 L380.6 387.1 L381.5 387.4 L382.5 387.8 L383.4 388.1 L384.3 388.5 L385.2 388.8 L386.1 389.2 L387.1 389.6 L388.0 389.9 L388.9 390.3 L389.8 390.6 L390.8 391.0 L391.7 391.3 L392.6 391.7 L393.6 392.0 L394.5 392.4 L395.4 392.7 L396.3 393.1 L397.3 393.4 L398.2 393.8 L399.1 394.1 L400.1 394.4 L401.0 394.8 L401.9 395.1 L402.9 395.5 L403.8 395.8 L404.8 396.2 L405.7 396.5 L406.6 396.8 L407.6 397.2 L408.5 397.5 L409.5 397.8 L410.4 398.2 L411.4 398.5 L412.3 398.8 L413.3 399.2 L414.2 399.5 L415.2 399.8 L416.2 400.1 L417.1 400.5 L418.1 400.8 L419.0 401.1 L420.0 401.4 L421.0 401.7 L421.9 402.1 L422.9 402.4 L423.9 402.7 L424.9 403.0 L425.8 403.3 L426.8 403.6 L427.8 403.9 L428.8 404.2 L429.7 404.5 L430.7 404.8 L431.7 405.1 L432.7 405.3 L433.7 405.6 L434.6 405.9 L435.6 406.2 L436.6 406.4 L437.6 406.7 L438.6 406.9 L439.6 407.2 L440.6 407.4 L441.5 407.7 L442.5 407.9 L443.5 408.1 L444.5 408.3 L445.5 408.5 L446.5 408.7 L447.5 408.9 L448.5 409.1 L449.5 409.3 L450.5 409.5 L451.4 409.7 L452.4 409.8 L453.4 410.0 L454.4 410.1 L455.4 410.3 L456.4 410.4 L457.4 410.5 L458.4 410.6 L459.3 410.7 L460.3 410.8 L461.3 410.9 L462.3 411.0 L463.3 411.1 L464.3 411.1 L465.2 411.2 L466.2 411.2 L467.2 411.2 L468.2 411.3 L469.2 411.3 L470.1 411.3 L471.1 411.2 L472.1 411.2 L473.0 411.2 L474.0 411.1 L475.0 411.0 L475.9 410.9 L476.9 410.8 L477.9 410.7 L478.8 410.6 L479.8 410.4 L480.7 410.2 L481.6 410.0 L482.6 409.8 L483.5 409.6 L484.4 409.3 L485.4 409.1 L486.3 408.8 L487.2 408.4 L488.1 408.1 L489.0 407.7 L489.9 407.3 L490.8 406.9 L491.7 406.5 L492.6 406.0 L493.4 405.5 L494.3 405.0 L495.1 404.4 L496.0 403.9 L496.8 403.3 L497.7 402.6 L498.5 402.0 L499.3 401.3 L499.4 401.2" stroke="#0000ff" stroke-width="1.7" fill="none" stroke-dasharray="3.1 3.8" stroke-dashoffset="1.9"/>
<text x="1.5" y="20.4" font-size="25" fill="#000" text-anchor="start" font-family="Liberation Serif, serif" text-rendering="geometricPrecision">M</text>
<text x="22.2" y="34.2" font-size="19.0" fill="#000" text-anchor="start" font-family="Liberation Serif, serif" text-rendering="geometricPrecision">Z</text>
<text x="34.0" y="37.2" font-size="18.5" fill="#000" text-anchor="start" font-family="Liberation Serif, serif" text-rendering="geometricPrecision">&#8217;</text>
<text x="41.5" y="20.4" font-size="25.6" fill="#000" text-anchor="start" font-family="Liberation Serif, serif" text-rendering="geometricPrecision">(TeV)</text>
<text x="194.3" y="26.8" font-size="25" fill="#000" text-anchor="start" font-family="Liberation Serif, serif" text-rendering="geometricPrecision">SSM,</text>
<text transform="translate(269.6 26.9) scale(1.13 0.93)" font-size="25" fill="#000" font-family="Liberation Serif, serif" text-rendering="geometricPrecision">&#945;</text>
<path d="M293.2 18.8H305.6M293.2 24.1H305.6" stroke="#000" stroke-width="1.55" fill="none"/>
<text x="305.8" y="26.8" font-size="25" fill="#000" text-anchor="start" font-family="Liberation Serif, serif" text-rendering="geometricPrecision">0</text>
<text x="449.5" y="33.8" font-size="25" fill="#000" text-anchor="start" font-family="Liberation Serif, serif" text-rendering="geometricPrecision">LUX</text>
<text x="366.7" y="551.3" font-size="25" fill="#000" text-anchor="start" font-family="Liberation Serif, serif" text-rendering="geometricPrecision">m</text>
<g transform="translate(387.0 549.6) scale(0.909 0.926)" fill="none" stroke="#000" stroke-linecap="round"><path d="M10.1 0.5 L0.9 13.2" stroke-width="1.7"/><path d="M0.5 2.0 C0.9 0.6 2.0 0.0 3.0 1.1 C4.6 3.0 6.0 7.6 7.2 11.0 C8.0 13.3 9.5 13.9 10.6 11.0" stroke-width="1.15"/></g>
<text x="404.3" y="551.3" font-size="24.8" fill="#000" text-anchor="start" font-family="Liberation Serif, serif" text-rendering="geometricPrecision">(GeV)</text>
<text transform="translate(36.5 61.3) scale(1 1.05)" font-size="17.7" fill="#000" font-family="Liberation Serif, serif" text-rendering="geometricPrecision">10</text>
<text transform="translate(43.0 110.0) scale(1 1.05)" font-size="17.7" fill="#000" font-family="Liberation Serif, serif" text-rendering="geometricPrecision">9</text>
<text transform="translate(43.0 158.0) scale(1 1.05)" font-size="17.7" fill="#000" font-family="Liberation Serif, serif" text-rendering="geometricPrecision">8</text>
<text transform="translate(43.0 200.0) scale(1 1.05)" font-size="17.7" fill="#000" font-family="Liberation Serif, serif" text-rendering="geometricPrecision">7</text>
<text transform="translate(43.0 240.0) scale(1 1.05)" font-size="17.7" fill="#000" font-family="Liberation Serif, serif" text-rendering="geometricPrecision">6</text>
<text transform="translate(43.0 282.4) scale(1 1.05)" font-size="17.7" fill="#000" font-family="Liberation Serif, serif" text-rendering="geometricPrecision">5</text>
<text transform="translate(43.0 323.8) scale(1 1.05)" font-size="17.7" fill="#000" font-family="Liberation Serif, serif" text-rendering="geometricPrecision">4</text>
<text transform="translate(43.0 365.0) scale(1 1.05)" font-size="17.7" fill="#000" font-family="Liberation Serif, serif" text-rendering="geometricPrecision">3</text>
<text transform="translate(43.0 406.3) scale(1 1.05)" font-size="17.7" fill="#000" font-family="Liberation Serif, serif" text-rendering="geometricPrecision">2</text>
<text transform="translate(43.0 454.5) scale(1 1.05)" font-size="17.7" fill="#000" font-family="Liberation Serif, serif" text-rendering="geometricPrecision">1</text>
<text transform="translate(71.2 516.3) scale(1 1.05)" font-size="17.7" fill="#000" font-family="Liberation Serif, serif" text-rendering="geometricPrecision">1</text>
<text transform="translate(209.2 516.3) scale(1 1.05)" font-size="17.7" fill="#000" font-family="Liberation Serif, serif" text-rendering="geometricPrecision">10</text>
<text transform="translate(347.0 516.8) scale(1 1.05)" font-size="17.7" fill="#000" font-family="Liberation Serif, serif" text-rendering="geometricPrecision">100</text>
<text transform="translate(485.0 516.9) scale(1 1.05)" font-size="17.7" fill="#000" font-family="Liberation Serif, serif" text-rendering="geometricPrecision">1000</text>
<text transform="translate(105.00 171.6) scale(1 1.03)" font-size="24.2" fill="#ff0000" font-family="Liberation Serif, serif" text-rendering="geometricPrecision">Br</text>
<g transform="translate(125.7 168.5) scale(1.000 1.000)" fill="none" stroke="#ff0000" stroke-linecap="round"><path d="M10.1 0.5 L0.9 13.2" stroke-width="1.7"/><path d="M0.5 2.0 C0.9 0.6 2.0 0.0 3.0 1.1 C4.6 3.0 6.0 7.6 7.2 11.0 C8.0 13.3 9.5 13.9 10.6 11.0" stroke-width="1.15"/></g>
<path d="M142.50 159.20L154.60 165.20L142.50 171.20" stroke="#ff0000" stroke-width="1.45" fill="none" stroke-linejoin="miter" stroke-miterlimit="10"/>
<text transform="translate(161.72 171.6) scale(1 1.03)" font-size="24.2" fill="#ff0000" font-family="Liberation Serif, serif" text-rendering="geometricPrecision">90%</text>
<text transform="translate(256.80 158.5) scale(1 1.03)" font-size="24.2" fill="#8b2e00" font-family="Liberation Serif, serif" text-rendering="geometricPrecision">Br</text>
<g transform="translate(277.7 155.4) scale(1.000 1.000)" fill="none" stroke="#8b2e00" stroke-linecap="round"><path d="M10.1 0.5 L0.9 13.2" stroke-width="1.7"/><path d="M0.5 2.0 C0.9 0.6 2.0 0.0 3.0 1.1 C4.6 3.0 6.0 7.6 7.2 11.0 C8.0 13.3 9.5 13.9 10.6 11.0" stroke-width="1.15"/></g>
<path d="M306.50 146.10L294.40 152.10L306.50 158.10" stroke="#8b2e00" stroke-width="1.45" fill="none" stroke-linejoin="miter" stroke-miterlimit="10"/>
<text transform="translate(313.09 158.5) scale(1 1.03)" font-size="24.2" fill="#8b2e00" font-family="Liberation Serif, serif" text-rendering="geometricPrecision">50%</text>
<text transform="translate(264.00 309.8) scale(1 1.03)" font-size="24.2" fill="#ff00ff" font-family="Liberation Serif, serif" text-rendering="geometricPrecision">Br</text>
<g transform="translate(284.2 306.7) scale(1.000 1.000)" fill="none" stroke="#ff00ff" stroke-linecap="round"><path d="M10.1 0.5 L0.9 13.2" stroke-width="1.7"/><path d="M0.5 2.0 C0.9 0.6 2.0 0.0 3.0 1.1 C4.6 3.0 6.0 7.6 7.2 11.0 C8.0 13.3 9.5 13.9 10.6 11.0" stroke-width="1.15"/></g>
<path d="M313.70 297.40L301.60 303.40L313.70 309.40" stroke="#ff00ff" stroke-width="1.45" fill="none" stroke-linejoin="miter" stroke-miterlimit="10"/>
<text transform="translate(321.17 309.8) scale(1 1.03)" font-size="24.2" fill="#ff00ff" font-family="Liberation Serif, serif" text-rendering="geometricPrecision">10%</text>
<text transform="translate(270.60 406.6) scale(1 1.03)" font-size="24.2" fill="#0000ff" font-family="Liberation Serif, serif" text-rendering="geometricPrecision">Br</text>
<g transform="translate(291.2 403.5) scale(1.000 1.000)" fill="none" stroke="#0000ff" stroke-linecap="round"><path d="M10.1 0.5 L0.9 13.2" stroke-width="1.7"/><path d="M0.5 2.0 C0.9 0.6 2.0 0.0 3.0 1.1 C4.6 3.0 6.0 7.6 7.2 11.0 C8.0 13.3 9.5 13.9 10.6 11.0" stroke-width="1.15"/></g>
<path d="M319.80 394.20L307.70 400.20L319.80 406.20" stroke="#0000ff" stroke-width="1.45" fill="none" stroke-linejoin="miter" stroke-miterlimit="10"/>
<text transform="translate(328.17 406.6) scale(1 1.03)" font-size="24.2" fill="#0000ff" font-family="Liberation Serif, serif" text-rendering="geometricPrecision">1%</text>
</svg>
</body></html>
